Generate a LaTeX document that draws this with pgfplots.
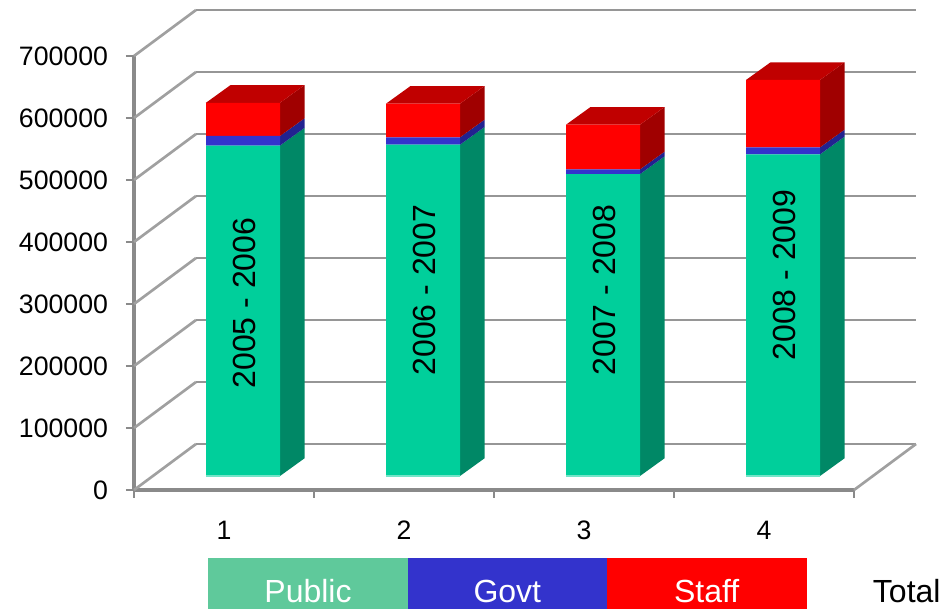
\documentclass[border=0pt]{standalone}
\usepackage{pgfplots}
\pgfplotsset{compat=1.18}
\usepackage{fontspec}
\setmainfont{Liberation Sans}
\definecolor{gridc}{HTML}{8A8A8A}
\definecolor{diagc}{HTML}{A0A0A0}
\definecolor{gfront}{HTML}{00CF9B}
\definecolor{gside}{HTML}{008866}
\definecolor{bfront}{HTML}{3333CC}
\definecolor{bside}{HTML}{222290}
\definecolor{rfront}{HTML}{FF0000}
\definecolor{rside}{HTML}{A00000}
\definecolor{rtop}{HTML}{C00000}
\definecolor{legpub}{HTML}{5FC99B}
\pgfplotsset{
  base/.style={scale only axis,width=540pt,height=325.5pt,xmin=0.5,xmax=4.5,ymin=0,ymax=700000,clip=false},
  hid/.style={base,axis lines=none,anchor=south west,at={(114.75pt,99.75pt)}},
  fc/.style={draw=none,fill=#1,forget plot},
}
\begin{document}
\begin{tikzpicture}
\useasboundingbox (0,0) rectangle (705.75pt,456.75pt);
% walls, floor, axes
\begin{axis}[base,anchor=south west,at={(100.5pt,89.25pt)},
  axis x line*=bottom,axis y line*=left,
  axis line style={draw=gridc,line width=2.6pt,-},
  tick style={draw=gridc,line width=2pt},
  tick align=outside,
  major tick length=6pt,
  scaled y ticks=false,
  xtick={0.5,1.5,2.5,3.5,4.5},xticklabels={},
  extra x ticks={1,2,3,4},extra x tick labels={1,2,3,4},
  extra x tick style={tick style={draw=none}},
  ytick={0,100000,200000,300000,400000,500000,600000,700000},
  yticklabels={0,100000,200000,300000,400000,500000,600000,700000},
  xticklabel style={font=\fontsize{20}{24}\selectfont,yshift=-14pt,black},
  yticklabel style={font=\fontsize{20}{24}\selectfont,black,xshift=-10pt},
]
\pgfplotsinvokeforeach{0,100000,200000,300000,400000,500000,600000,700000}{
  \draw[diagc,line width=2pt] (axis cs:0.5,#1) -- ++(46.5pt,34.5pt);
  \draw[gridc!90!white,line width=2.2pt] (axis cs:0.5,#1) ++(46.5pt,34.5pt) -- ++(540pt,0pt);
}
\draw[diagc,line width=2pt] (axis cs:4.5,0) -- ++(46.5pt,34.5pt);
\end{axis}
% side and top faces of the bars
\begin{axis}[hid]
\addplot[fc=gside] coordinates {(1.2056,0)(1.3417,28500)(1.3417,561500)(1.2056,533000)} --cycle;
\addplot[fc=bside] coordinates {(1.2056,533000)(1.3417,561500)(1.3417,576900)(1.2056,548400)} --cycle;
\addplot[fc=rside] coordinates {(1.2056,548400)(1.3417,576900)(1.3417,630500)(1.2056,602000)} --cycle;
\addplot[fc=rtop] coordinates {(0.7944,602000)(1.2056,602000)(1.3417,630500)(0.9306,630500)} --cycle;
\addplot[fc=gside] coordinates {(2.2056,0)(2.3417,28500)(2.3417,562900)(2.2056,534400)} --cycle;
\addplot[fc=bside] coordinates {(2.2056,534400)(2.3417,562900)(2.3417,574700)(2.2056,546200)} --cycle;
\addplot[fc=rside] coordinates {(2.2056,546200)(2.3417,574700)(2.3417,629000)(2.2056,600500)} --cycle;
\addplot[fc=rtop] coordinates {(1.7944,600500)(2.2056,600500)(2.3417,629000)(1.9306,629000)} --cycle;
\addplot[fc=gside] coordinates {(3.2056,0)(3.3417,28500)(3.3417,515500)(3.2056,487000)} --cycle;
\addplot[fc=bside] coordinates {(3.2056,487000)(3.3417,515500)(3.3417,523100)(3.2056,494600)} --cycle;
\addplot[fc=rside] coordinates {(3.2056,494600)(3.3417,523100)(3.3417,595100)(3.2056,566600)} --cycle;
\addplot[fc=rtop] coordinates {(2.7944,566600)(3.2056,566600)(3.3417,595100)(2.9306,595100)} --cycle;
\addplot[fc=gside] coordinates {(4.2056,0)(4.3417,28500)(4.3417,547300)(4.2056,518800)} --cycle;
\addplot[fc=bside] coordinates {(4.2056,518800)(4.3417,547300)(4.3417,558600)(4.2056,530100)} --cycle;
\addplot[fc=rside] coordinates {(4.2056,530100)(4.3417,558600)(4.3417,667200)(4.2056,638700)} --cycle;
\addplot[fc=rtop] coordinates {(3.7944,638700)(4.2056,638700)(4.3417,667200)(3.9306,667200)} --cycle;
\end{axis}
% front faces
\begin{axis}[hid,ybar stacked,bar width=55.5pt]
\addplot[fill=gfront,draw=none] coordinates {(1,533000)(2,534400)(3,487000)(4,518800)};
\addplot[fill=bfront,draw=none] coordinates {(1,15400)(2,11800)(3,7600)(4,11300)};
\addplot[fill=rfront,draw=none] coordinates {(1,53600)(2,54300)(3,72000)(4,108600)};
\end{axis}
% labels on the bars, light base edge
\begin{axis}[hid]
\addplot[draw=gfront!55!white,line width=1.1pt,forget plot] coordinates {(0.7944,0)(1.2056,0)};
\addplot[draw=gfront!55!white,line width=1.1pt,forget plot] coordinates {(1.7944,0)(2.2056,0)};
\addplot[draw=gfront!55!white,line width=1.1pt,forget plot] coordinates {(2.7944,0)(3.2056,0)};
\addplot[draw=gfront!55!white,line width=1.1pt,forget plot] coordinates {(3.7944,0)(4.2056,0)};
\node[rotate=90,font=\fontsize{24}{28}\selectfont] at (axis cs:1.01,279000) {2005 - 2006};
\node[rotate=90,font=\fontsize{24}{28}\selectfont] at (axis cs:2.01,300000) {2006 - 2007};
\node[rotate=90,font=\fontsize{24}{28}\selectfont] at (axis cs:3.01,300000) {2007 - 2008};
\node[rotate=90,font=\fontsize{24}{28}\selectfont] at (axis cs:4.01,324000) {2008 - 2009};
\end{axis}
% legend strip
\fill[legpub] (156pt,0) rectangle (306pt,38.25pt);
\fill[bfront] (306pt,0) rectangle (455.25pt,38.25pt);
\fill[rfront] (455.25pt,0) rectangle (605.25pt,38.25pt);
\node[white,font=\fontsize{24}{28}\selectfont,anchor=base] at (231pt,4.5pt) {Public};
\node[white,font=\fontsize{24}{28}\selectfont,anchor=base] at (380.5pt,4.5pt) {Govt};
\node[white,font=\fontsize{24}{28}\selectfont,anchor=base] at (530pt,4.5pt) {Staff};
\node[black,font=\fontsize{24}{28}\selectfont,anchor=base west,inner sep=0pt] at (654.5pt,4.5pt) {Total};
\end{tikzpicture}
\end{document}
